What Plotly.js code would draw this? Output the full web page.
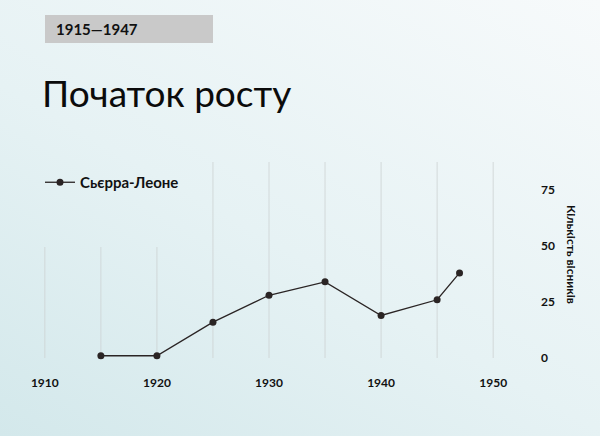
<!DOCTYPE html>
<html>
<head>
<meta charset="utf-8">
<script src="https://cdn.plot.ly/plotly-3.0.1.min.js"></script>
<style>
html,body{margin:0;padding:0;width:600px;height:436px;overflow:hidden;}
body{background:linear-gradient(30deg,#d3e8eb 0%,#e6f2f4 45%,#f7fafb 100%);}
#chart{width:600px;height:436px;}
</style>
</head>
<body>
<div id="chart"></div>
<script>
// Data
var years = [1915, 1920, 1925, 1930, 1935, 1940, 1945, 1947];
var publishers = [1, 1, 16, 28, 34, 19, 26, 38];
var seriesName = "Сьєрра-Леоне";
var xTicks = [1910, 1920, 1930, 1940, 1950];
var gridYears = [1910, 1915, 1920, 1925, 1930, 1935, 1940, 1945, 1950];
var yTicks = [0, 25, 50, 75];
var chartTitle = "Початок росту";
var periodLabel = "1915—1947";
var yTitle = "Кількість вісників";

var W = 600, H = 436, ML = 0, MR = 62, MT = 162, MB = 78;
var PW = W - ML - MR, PH = H - MT - MB;
function pxX(x){ return (x - ML) / PW; }
function pxY(y){ return (H - MB - y) / PH; }

var font = "Lato, 'Noto Sans', sans-serif";
var dark = "#2a2424";

var shapes = gridYears.map(function(yr){
  return {type:"line", xref:"x", yref:"paper", x0:yr, x1:yr, y0:0,
          y1: yr <= 1920 ? pxY(247) : 1, layer:"below",
          line:{color:"#cdd2d3", width:0.8}};
});
shapes.push({type:"rect", xref:"paper", yref:"paper",
  x0:pxX(45), x1:pxX(213), y0:pxY(43), y1:pxY(15),
  fillcolor:"#c9c9c9", line:{width:0}, layer:"below"});

var trace = {
  x: years, y: publishers, name: seriesName, type:"scatter", mode:"lines+markers",
  line:{color:dark, width:1.3}, marker:{color:dark, size:7}, cliponaxis:false
};

var layout = {
  width:W, height:H,
  margin:{l:ML, r:MR, t:MT, b:MB, pad:0},
  paper_bgcolor:"rgba(0,0,0,0)", plot_bgcolor:"rgba(0,0,0,0)",
  showlegend:true,
  legend:{x:pxX(40), y:pxY(166), xanchor:"left", yanchor:"top",
    bgcolor:"rgba(0,0,0,0)", font:{family:font, size:15, color:"#111", weight:"bold"}},
  title:{text:chartTitle, xref:"container", yref:"container", x:42/W, xanchor:"left",
    y:1-94/H, yanchor:"middle", font:{family:font, size:37, color:"#0b0b0b"}},
  xaxis:{range:[1906, 1954], tickvals:xTicks, showgrid:false, zeroline:false,
    showline:false, ticks:"", ticklabelstandoff:16,
    tickfont:{family:font, size:12, color:"#111", weight:"bold"}},
  yaxis:{range:[0, 87.5], side:"right", tickvals:yTicks, showgrid:false, zeroline:false,
    showline:false, ticks:"", ticklabelstandoff:2,
    tickfont:{family:font, size:12, color:"#111", weight:"bold"}},
  shapes:shapes,
  annotations:[
    {text:periodLabel, xref:"paper", yref:"paper", x:pxX(54), y:pxY(29),
     xanchor:"left", yanchor:"middle", showarrow:false,
     font:{family:font, size:15, color:"#111", weight:"bold"}},
    {text:yTitle, xref:"paper", yref:"paper", x:pxX(572), y:pxY(254),
     xanchor:"center", yanchor:"middle", textangle:90, showarrow:false,
     font:{family:font, size:12, color:"#111", weight:"bold"}}
  ]
};

Plotly.newPlot("chart", [trace], layout, {displayModeBar:false, staticPlot:true});
</script>
</body>
</html>
